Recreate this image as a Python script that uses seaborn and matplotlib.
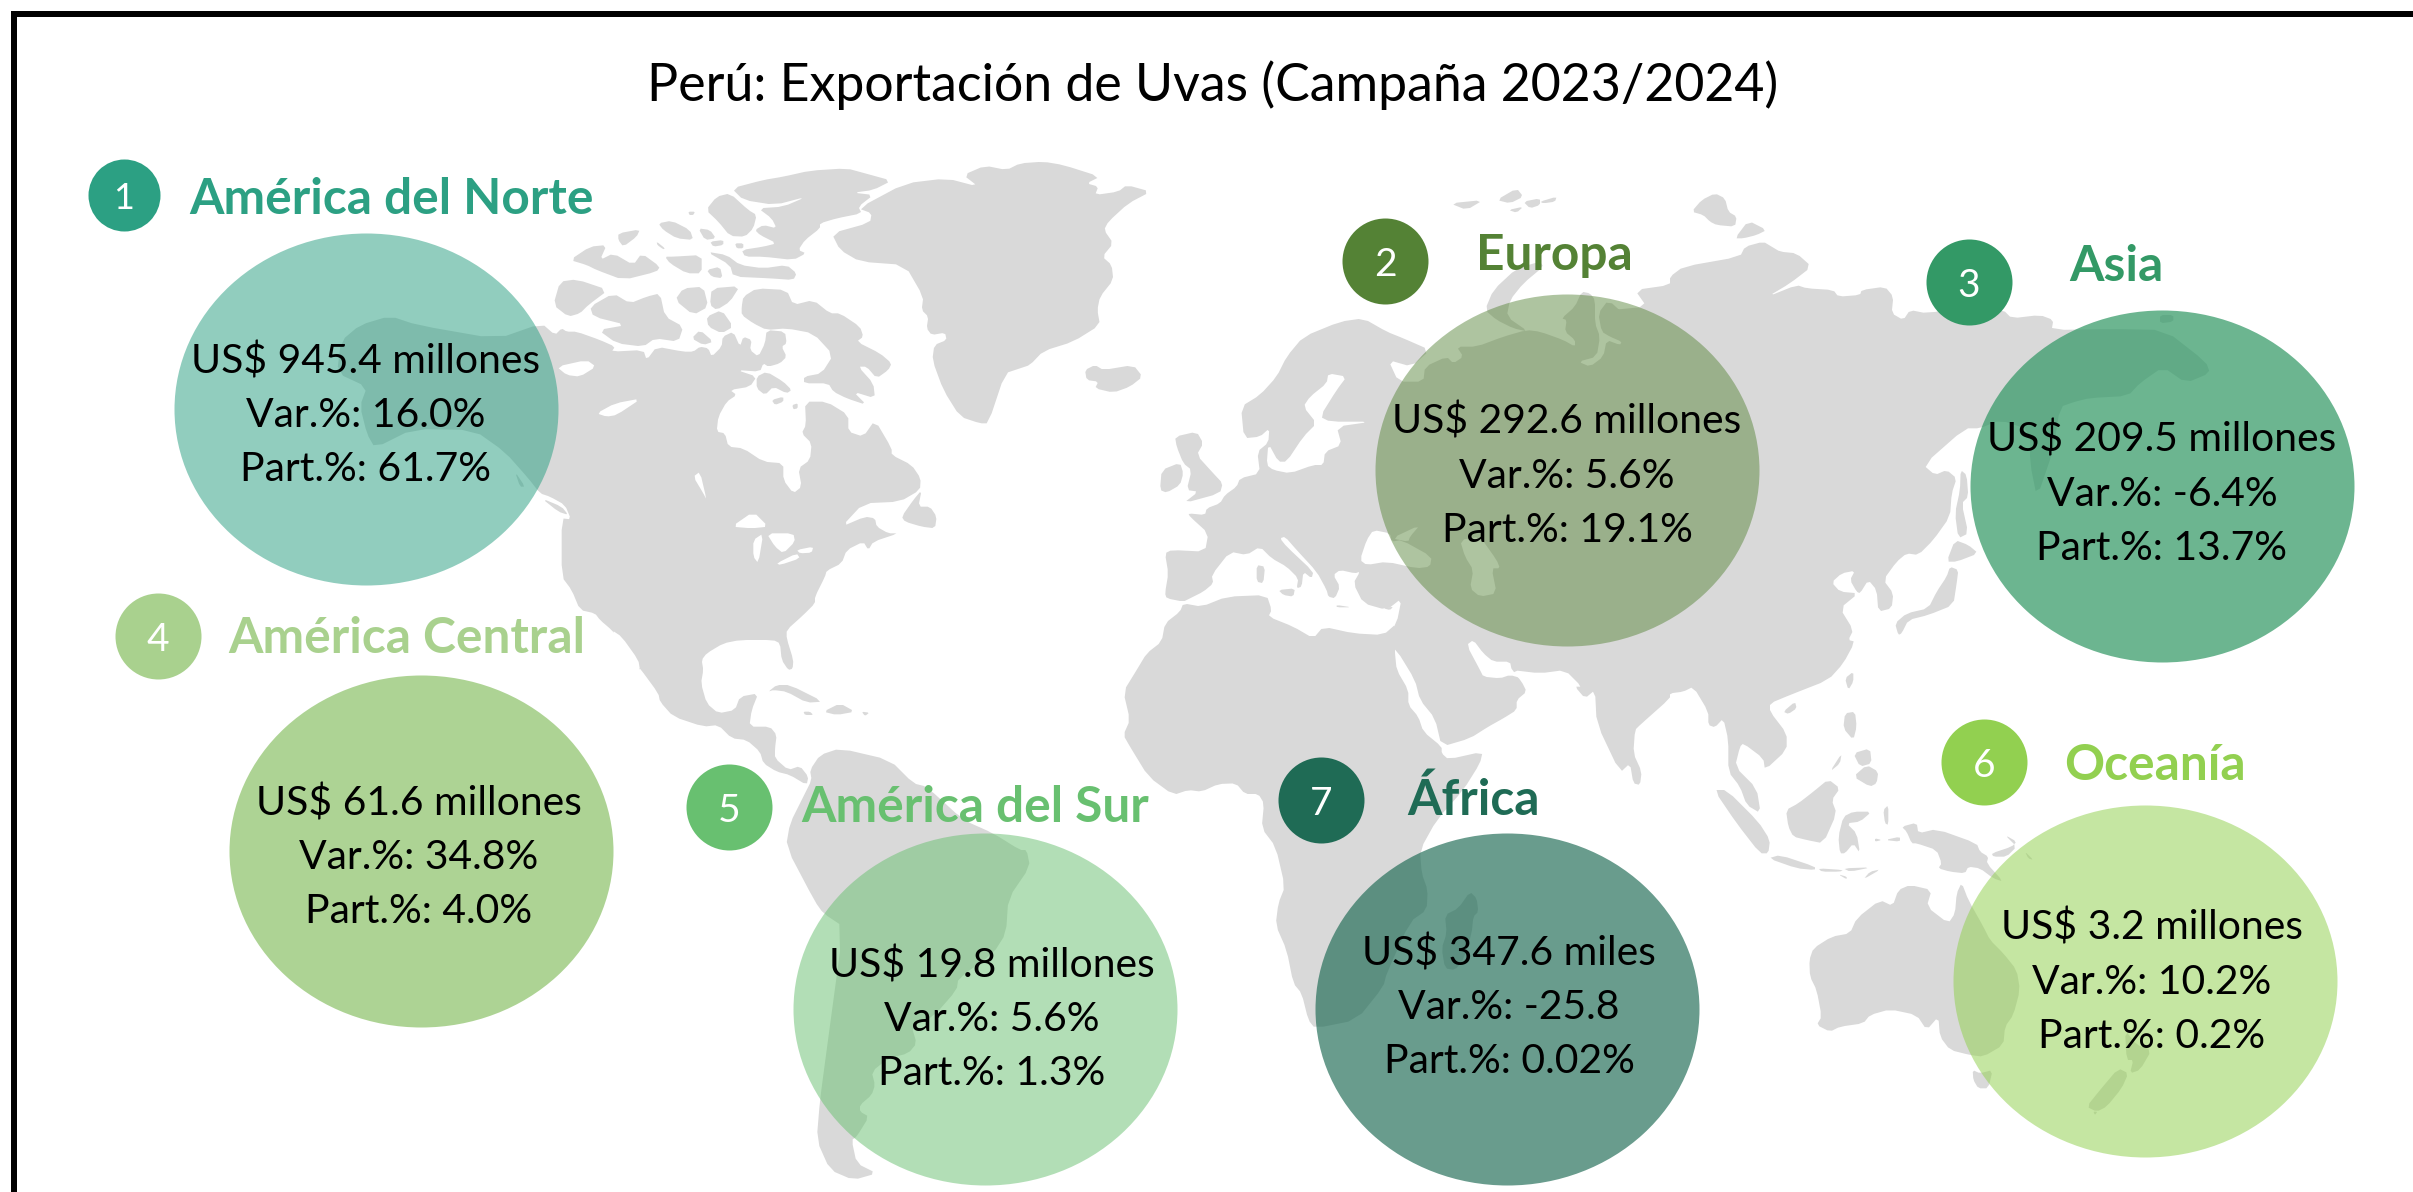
"""Peru grape exports by region, drawn over a traced grey world map."""
import matplotlib
matplotlib.use("Agg")
import matplotlib.pyplot as plt
import pandas as pd
import seaborn as sns
from matplotlib.path import Path
from matplotlib.patches import Polygon

# chart data
regions = ["América del Norte", "Europa", "Asia", "América Central",
           "América del Sur", "Oceanía", "África"]
ranks = [1, 2, 3, 4, 5, 6, 7]
values = ["945.4", "292.6", "209.5", "61.6", "19.8", "3.2", "347.6"]
units = ["millones", "millones", "millones", "millones", "millones", "millones", "miles"]
var_pct = ["16.0%", "5.6%", "-6.4%", "34.8%", "5.6%", "10.2%", "-25.8"]
part_pct = ["61.7%", "19.1%", "13.7%", "4.0%", "1.3%", "0.2%", "0.02%"]

# styling and layout, in reference pixels
colors = ["#2CA083", "#548235", "#339966", "#A9D18E", "#68C070", "#92D050", "#1F6B55"]
bubble_alpha = [0.52, 0.47, 0.72, 0.95, 0.51, 0.53, 0.67]
bubble_x = [366, 1567, 2162, 421, 985, 2145, 1507]
bubble_y = [409, 470, 486, 851, 1009, 981, 1009]
text_x = [366, 1567, 2162, 419, 992, 2152, 1509]
text_y = [373, 434, 452, 815, 977, 940, 965]
dot_x = [124, 1385, 1969, 158, 729, 1984, 1321]
dot_y = [195, 261, 282, 636, 807, 762, 800]
dot_r = [36, 43, 43, 43, 43, 43, 43]
label_x = [189, 1476, 2069, 228, 801, 2064, 1407]
label_y = [214, 270, 281, 653, 822, 780, 815]
LAND = "#D9D9D9"
DPI = 100


def crop(ox, oy, pts):
    return [(ox + x / 3, oy + y / 3) for x, y in pts]


def c5(pts):
    return crop(500, 150, pts)


def c6(pts):
    return crop(1020, 150, pts)


def c7(pts):
    return crop(1540, 150, pts)


def c8(pts):
    return crop(640, 660, pts)


def c9(pts):
    return crop(1130, 640, pts)


def c10(pts):
    return crop(1640, 640, pts)


def soften(pts):
    # one pass of corner cutting so the traced coasts look less angular
    out = []
    for i, (x0, y0) in enumerate(pts):
        x1, y1 = pts[(i + 1) % len(pts)]
        out.append((0.8 * x0 + 0.2 * x1, 0.8 * y0 + 0.2 * y1))
        out.append((0.2 * x0 + 0.8 * x1, 0.2 * y0 + 0.8 * y1))
    return out


north_america = (
    c5([(125, 520), (165, 555), (185, 535), (200, 545), (230, 545), (300, 570), (345, 590), (335, 605),
        (430, 600), (440, 630), (470, 590), (550, 605), (580, 605), (600, 590), (625, 595), (635, 620),
        (665, 590), (668, 560), (700, 545), (720, 590), (730, 560), (755, 570), (750, 600), (775, 620),
        (795, 580), (800, 540), (855, 545), (860, 580), (845, 590), (860, 620), (840, 640), (805, 650),
        (790, 640), (780, 665), (710, 660), (770, 680), (750, 710), (690, 720), (710, 735), (680, 755),
        (655, 800), (650, 845), (675, 850), (685, 890), (730, 895), (790, 935), (850, 940), (850, 990),
        (880, 1030), (905, 1010), (895, 955), (930, 930), (935, 880), (905, 850), (918, 825), (915, 755),
        (980, 755), (1045, 795), (1045, 845), (1090, 860), (1125, 810), (1175, 895), (1175, 915),
        (1235, 945), (1262, 985), (1260, 1020), (1200, 1055), (1090, 1060), (1025, 1130), (1095, 1100),
        (1125, 1105), (1130, 1130), (1165, 1150), (1195, 1150), (1120, 1175), (1105, 1200), (1090, 1175),
        (1040, 1200), (1025, 1240), (980, 1262), (975, 1280), (945, 1340), (945, 1360), (910, 1395),
        (860, 1440), (860, 1465), (880, 1530), (878, 1556)])
    + c8([(445, 30), (425, 0)])
    + c5([(840, 1480), (820, 1470), (720, 1470), (670, 1480), (620, 1510), (605, 1530), (610, 1560)])
    + c8([(183, 70), (200, 130), (235, 160), (285, 150), (300, 110), (355, 100), (335, 150), (328, 200),
          (390, 200), (410, 225), (405, 265), (405, 295), (445, 330), (480, 318), (505, 350), (500, 375),
          (450, 345), (410, 335), (370, 310), (360, 275), (320, 240), (275, 235), (235, 195), (190, 200),
          (100, 170), (60, 125), (55, 100), (0, 25)])
    + c5([(420, 1560), (380, 1490), (335, 1440), (300, 1410), (285, 1390), (240, 1380), (215, 1320),
          (185, 1280), (185, 1105), (213, 1108), (195, 1065), (150, 1040), (120, 1030), (85, 985), (15, 906),
          (-78, 840), (-261, 837), (-375, 894), (-399, 852), (-420, 768), (-399, 711), (-489, 669),
          (-477, 573), (-420, 525), (-330, 498), (-249, 525), (-9, 567)])
)

greenland = (
    c5([(995, 250), (1110, 218), (1115, 190), (1075, 175), (1215, 100), (1340, 85), (1435, 110), (1390, 75),
        (1455, 47), (1520, 60)])
    + c6([(0, 40), (70, 35), (130, 45), (240, 80), (200, 100), (235, 110), (225, 135), (295, 125), (320, 105),
          (392, 125), (325, 160), (265, 215), (252, 240), (280, 280), (247, 320), (275, 345), (280, 390),
          (240, 440), (232, 480), (240, 525), (160, 575), (70, 603), (30, 645), (0, 655)])
    + c5([(1515, 670), (1465, 820), (1440, 820), (1380, 800), (1330, 720), (1297, 630), (1303, 585), (1340, 570),
          (1335, 548), (1295, 555), (1280, 535), (1285, 500), (1265, 480), (1270, 440), (1215, 345), (1080, 335),
          (1020, 300)])
)

south_america = c8([(510, 330), (540, 285), (600, 265), (750, 300), (820, 370), (860, 380), (970, 480), (1060, 520),
                    (1140, 570), (1160, 570), (1170, 620), (1105, 715), (1098, 820), (1060, 880), (955, 955),
                    (950, 990), (880, 1070), (815, 1100), (830, 1150), (805, 1180), (745, 1195), (695, 1235),
                    (705, 1275), (695, 1305), (660, 1335), (660, 1355), (687, 1370), (650, 1430), (635, 1440),
                    (650, 1510), (710, 1540), (640, 1560), (570, 1530), (530, 1440), (540, 1320), (560, 1170),
                    (610, 800), (550, 760), (525, 725), (438, 560), (450, 490), (490, 410), (515, 360)])

africa = (
    c6([(350, 1560), (380, 1510), (425, 1475), (435, 1420), (480, 1385), (490, 1360), (545, 1370), (620, 1340),
        (740, 1335), (755, 1380), (745, 1400), (820, 1430), (880, 1465), (910, 1430), (1000, 1450), (1090, 1455),
        (1130, 1420), (1125, 1500)])
    + c9([(795, 40), (800, 90), (835, 150), (835, 195), (865, 230), (880, 275), (935, 320), (935, 340), (955, 358),
          (1058, 335), (1050, 370), (1000, 450), (920, 540), (870, 630), (875, 700), (893, 750), (890, 810),
          (840, 845), (770, 1000), (760, 1040), (680, 1140), (555, 1165), (535, 1140), (515, 1060), (490, 1030),
          (470, 930), (437, 855), (445, 790), (465, 740), (437, 620), (395, 565), (402, 490), (385, 462), (345, 462),
          (318, 430), (265, 432), (215, 455), (175, 450), (130, 465), (55, 410), (0, 320)])
    + c8([(1450, 225), (1470, 180), (1450, 95)])
)

eurasia = (
    c6([(435, 1210), (455, 1200), (555, 1205), (565, 1150), (510, 1100), (505, 1090), (555, 1095), (560, 1075),
        (600, 1060), (615, 1035), (650, 1010), (660, 985), (720, 970), (712, 905), (745, 878), (748, 835), (720, 860),
        (672, 865), (663, 770), (720, 735), (770, 680), (800, 620), (850, 560), (960, 515), (1030, 505), (1100, 545),
        (1150, 565), (1230, 600), (1175, 650), (1105, 630), (1135, 695), (1210, 695), (1215, 650), (1280, 620),
        (1300, 640), (1330, 620), (1310, 590), (1370, 590), (1450, 560), (1520, 540)])
    + c7([(0, 545), (70, 570), (105, 590), (105, 570), (75, 545), (80, 510), (65, 505), (105, 470), (125, 425),
          (150, 430), (165, 450), (165, 520), (180, 560), (170, 620), (115, 635), (150, 650), (190, 620), (200, 570),
          (240, 585), (245, 575), (210, 560), (185, 545), (175, 490), (205, 450), (260, 500), (215, 480), (320, 470),
          (285, 420), (390, 405), (390, 380), (430, 350), (600, 320), (615, 290), (670, 275), (695, 290), (720, 305),
          (770, 310), (815, 350), (750, 400), (683, 440), (770, 405), (800, 415), (880, 420), (895, 440), (960, 435),
          (965, 420), (1035, 410), (1060, 440), (1055, 490), (1090, 510), (1110, 480), (1160, 490), (1280, 470),
          (1390, 480), (1415, 505), (1500, 495), (1540, 510), (1535, 540), (1719, 537), (1875, 540), (1998, 636),
          (2010, 669), (1938, 699), (1869, 651), (1800, 699), (1764, 738), (1650, 744), (1602, 756), (1560, 771),
          (1540, 900), (1491, 1044), (1470, 939), (1470, 840), (1380, 810), (1320, 835), (1275, 835), (1150, 945),
          (1185, 975), (1220, 960), (1250, 985), (1235, 1030), (1230, 1100), (1180, 1170), (1135, 1215), (1100, 1210),
          (1070, 1235), (1030, 1290), (1060, 1330), (1055, 1375), (1015, 1385), (1010, 1320), (985, 1290), (960, 1330),
          (950, 1325), (930, 1290), (945, 1262), (905, 1270), (875, 1297), (900, 1325), (955, 1330), (900, 1375),
          (940, 1440), (925, 1470), (945, 1475), (900, 1560)])
    + c10([(645, 5), (610, 70), (565, 120), (450, 165), (390, 190), (390, 215), (440, 280), (440, 330), (375, 390),
           (370, 355), (310, 310), (300, 320), (285, 380), (350, 445), (362, 520), (320, 495), (300, 440), (265, 395),
           (265, 300), (250, 235), (225, 262), (205, 255), (205, 215), (160, 140), (130, 155), (90, 160), (90, 175),
           (0, 255)])
    + c9([(1515, 270), (1510, 340), (1535, 395), (1530, 435), (1510, 430), (1500, 370), (1470, 398), (1400, 250),
          (1395, 150), (1365, 175), (1335, 140), (1355, 140), (1305, 90), (1230, 100), (1145, 90), (1175, 125),
          (1190, 155), (1160, 180), (1160, 210), (1120, 235), (1075, 260), (1020, 295), (935, 320), (915, 235),
          (870, 180), (855, 120), (800, 30), (760, 5)])
    + c6([(1130, 1420), (1145, 1345), (1100, 1380), (1030, 1360), (1000, 1300), (1020, 1265), (1005, 1270), (960, 1260),
          (940, 1275), (960, 1310), (945, 1345), (925, 1340), (920, 1320), (890, 1265), (830, 1200), (795, 1160),
          (780, 1165), (800, 1190), (880, 1265), (875, 1285), (850, 1265), (845, 1310), (830, 1315), (835, 1285),
          (800, 1250), (755, 1225), (720, 1190), (680, 1215), (630, 1205), (575, 1275), (580, 1300), (550, 1325),
          (510, 1345), (490, 1355), (440, 1345), (435, 1330), (445, 1270)])
)

australia = c10([(508, 960), (520, 925), (575, 890), (630, 880), (650, 835), (720, 780), (758, 798), (775, 750), (810, 735),
                 (875, 750), (860, 800), (925, 850), (945, 820), (950, 760), (965, 728), (985, 780), (1030, 860),
                 (1050, 900), (1090, 940), (1130, 990), (1140, 1050), (1120, 1125), (1095, 1160), (1090, 1215),
                 (1030, 1250), (990, 1245), (930, 1230), (900, 1190), (895, 1130), (860, 1170), (830, 1125), (750, 1108),
                 (690, 1125), (670, 1150), (600, 1160), (570, 1175), (530, 1155), (545, 1130), (530, 1050), (510, 1010)])

islands = [
    # arctic canada
    c5([(725, 470), (730, 440), (770, 415), (860, 420), (880, 465), (940, 450), (990, 490), (1020, 490), (1080, 530),
        (1090, 560), (1070, 575), (1140, 610), (1175, 640), (1165, 660), (1130, 685), (1100, 650), (1075, 650),
        (1120, 700), (1125, 745), (1060, 725), (1100, 765), (1040, 745), (1000, 725), (985, 700), (912, 700), (912, 680),
        (965, 670), (1000, 615), (940, 550), (860, 535), (800, 540), (760, 520), (725, 495)]),
    c5([(270, 470), (340, 430), (390, 460), (440, 440), (480, 430), (495, 500), (550, 530), (535, 575), (465, 565),
        (430, 590), (350, 580), (295, 540), (380, 525), (280, 500)]),
    c5([(160, 465), (180, 395), (230, 388), (325, 420), (265, 465), (240, 490), (205, 500)]),
    c5([(525, 450), (550, 415), (610, 410), (625, 470), (580, 495)]),
    c5([(575, 565), (600, 540), (640, 575), (610, 585)]),
    c5([(635, 415), (720, 408), (690, 455), (650, 480), (630, 465)]),
    c5([(620, 500), (665, 480), (700, 530), (665, 550), (625, 530)]),
    c5([(210, 330), (270, 290), (320, 285), (300, 330), (340, 310), (400, 345), (425, 310), (480, 350), (470, 365),
        (370, 390), (290, 360), (260, 345)]),
    c5([(495, 320), (520, 320), (605, 315), (605, 370), (560, 370), (510, 340)]),
    c5([(620, 305), (680, 315), (720, 345), (790, 355), (860, 345), (890, 370), (880, 390), (810, 385), (700, 380),
        (690, 345)]),
    c5([(620, 360), (660, 350), (668, 385), (635, 380)]),
    c5([(695, 115), (790, 90), (850, 80), (930, 62), (1040, 55), (1095, 70), (1175, 92), (1120, 120), (1060, 128),
        (1120, 135), (1075, 170), (1085, 190), (1010, 205), (960, 220), (960, 235), (915, 270), (895, 300), (918, 310),
        (880, 330), (790, 320), (735, 320), (725, 300), (790, 290), (830, 280), (780, 255), (765, 240), (790, 225),
        (830, 235), (815, 205), (775, 175), (850, 170), (920, 140), (825, 165), (730, 150)]),
    c5([(618, 180), (650, 140), (690, 130), (745, 180), (770, 195), (760, 235), (735, 260), (690, 258), (655, 215)]),
    c5([(475, 220), (515, 212), (570, 240), (580, 270), (530, 265), (490, 240)]),
    c5([(595, 235), (630, 240), (648, 265), (615, 270)]),
    c5([(630, 275), (670, 270), (670, 285), (640, 290)]),
    c5([(705, 280), (730, 280), (730, 295), (710, 295)]),
    c5([(355, 250), (420, 238), (410, 260), (370, 290), (355, 270)]),
    c5([(470, 275), (495, 295), (490, 298), (472, 285)]),
    c5([(565, 185), (585, 185), (580, 195), (568, 195)]),
    c5([(770, 680), (800, 665), (850, 695), (875, 720), (860, 730), (820, 710), (795, 735), (770, 715)]),
    c5([(815, 750), (850, 740), (850, 755), (825, 765)]),
    c5([(877, 765), (893, 760), (893, 775), (880, 778)]),
    c5([(1205, 1100), (1240, 1050), (1265, 1020), (1255, 1070), (1290, 1070), (1310, 1100), (1305, 1135), (1265, 1130),
        (1215, 1115)]),
    c5([(125, 1045), (185, 1070), (205, 1095), (175, 1085)]),
    c5([(45, 965), (75, 1010), (60, 1010)]),
    # caribbean
    c8([(385, 95), (410, 75), (450, 75), (550, 125), (500, 128), (440, 95), (400, 90)]),
    c8([(550, 155), (600, 130), (645, 155), (590, 165)]),
    c8([(490, 155), (510, 155), (520, 165), (495, 165)]),
    c8([(665, 155), (688, 158), (675, 168)]),
    # europe and the north
    c6([(195, 660), (225, 645), (250, 660), (340, 645), (368, 680), (330, 710), (280, 728), (225, 715), (235, 695),
        (200, 690)]),
    c6([(420, 1020), (425, 960), (480, 938), (490, 970), (480, 1005), (440, 1028)]),
    c6([(465, 860), (530, 845), (550, 880), (530, 915), (580, 970), (608, 1000), (600, 1030), (490, 1060), (535, 1025),
        (500, 1020), (515, 960), (490, 940), (470, 890)]),
    c6([(775, 1320), (825, 1315), (820, 1340), (790, 1335)]),
    c6([(710, 1245), (735, 1250), (730, 1300), (710, 1295)]),
    c6([(950, 1365), (995, 1372), (950, 1372)]),
    c6([(1090, 1375), (1120, 1370), (1110, 1380)]),
    c6([(1290, 160), (1390, 150), (1340, 180)]),
    c6([(1430, 150), (1490, 115), (1510, 140), (1470, 160)]),
    c6([(1510, 155), (1560, 145), (1560, 165), (1530, 175)]),
    c6([(1465, 180), (1510, 170), (1490, 188)]),
    c7([(0, 155), (50, 140), (45, 155), (10, 160)]),
    c6([(1395, 480), (1420, 420), (1490, 355), (1560, 335), (1570, 350), (1510, 400), (1470, 450), (1460, 500),
        (1525, 545), (1480, 535), (1430, 510)]),
    c7([(455, 185), (485, 150), (525, 130), (555, 145), (565, 185), (590, 200), (585, 230), (530, 225), (510, 215),
        (490, 195)]),
    c7([(585, 265), (625, 212), (680, 240), (650, 255), (610, 265)]),
    c7([(1860, 495), (1900, 495), (1900, 515), (1860, 520)]),
    # japan and sakhalin
    c7([(1065, 1420), (1100, 1390), (1165, 1375), (1190, 1325), (1220, 1280), (1230, 1250), (1255, 1260), (1250, 1300),
        (1240, 1365), (1165, 1395), (1105, 1410), (1085, 1450), (1075, 1455)]),
    c7([(1220, 1235), (1245, 1170), (1285, 1185), (1315, 1210), (1250, 1235)]),
    c7([(1262, 960), (1280, 975), (1285, 1040), (1265, 1060), (1285, 1150), (1255, 1165), (1245, 1090), (1260, 1020)]),
    # south east asia and oceania
    c10([(430, 215), (465, 185), (470, 205), (445, 222)]),
    c10([(615, 115), (640, 95), (640, 125), (625, 150)]),
    c10([(615, 220), (645, 215), (650, 260), (640, 300), (610, 265)]),
    c10([(640, 410), (680, 375), (715, 395), (710, 430), (690, 440)]),
    c10([(640, 340), (690, 325), (695, 370), (660, 380)]),
    c10([(570, 395), (605, 340), (600, 370)]),
    c10([(222, 450), (260, 450), (355, 545), (390, 600), (385, 640), (360, 640), (290, 550)]),
    c10([(438, 510), (475, 490), (520, 455), (565, 418), (600, 445), (575, 480), (590, 520), (550, 610), (500, 600),
         (460, 590), (445, 560)]),
    c10([(595, 590), (610, 530), (640, 515), (695, 515), (660, 545), (620, 550), (650, 580), (660, 640), (640, 610),
         (615, 640), (600, 640)]),
    c10([(385, 655), (420, 645), (525, 680), (525, 690), (470, 685)]),
    c10([(535, 685), (610, 690), (600, 695), (545, 695)]),
    c10([(610, 685), (695, 682), (630, 695)]),
    c10([(595, 703), (620, 710), (620, 718)]),
    c10([(670, 718), (690, 695), (722, 688)]),
    c10([(730, 510), (745, 495), (745, 555), (735, 550)]),
    c10([(705, 595), (725, 600), (705, 605)]),
    c10([(735, 600), (780, 590), (780, 605)]),
    c10([(785, 560), (830, 548), (835, 580), (890, 567), (1010, 610), (1020, 635), (1045, 650), (1040, 670), (1090, 725),
         (1060, 715), (1020, 685), (985, 680), (975, 700), (930, 695), (895, 685), (905, 670), (890, 630), (830, 610),
         (815, 610), (800, 575)]),
    c10([(1055, 640), (1115, 620), (1130, 605), (1095, 585), (1130, 620), (1100, 650), (1060, 650)]),
    c10([(1155, 635), (1180, 660), (1165, 655)]),
    c10([(998, 1290), (1020, 1300), (1058, 1290), (1045, 1345), (1015, 1345), (1000, 1320)]),
    c10([(1340, 1400), (1380, 1350), (1435, 1285), (1465, 1300), (1445, 1345), (1400, 1400), (1370, 1415)]),
    c10([(1455, 1170), (1490, 1215), (1535, 1230), (1500, 1290), (1470, 1300), (1480, 1260), (1460, 1260)]),
    c10([(1360, 1415), (1372, 1415), (1365, 1425)]),
    c9([(1020, 755), (1040, 775), (1045, 815), (1030, 830), (1025, 880), (1000, 960), (975, 990), (945, 985), (935, 925),
        (950, 880), (945, 825), (985, 805)]),
    australia,
]

# lakes and inner seas, painted white over the land
waters = [
    c5([(170, 650), (260, 630), (288, 650), (240, 680), (200, 675)]),
    c5([(290, 790), (345, 760), (425, 745), (350, 795), (320, 800)]),
    c5([(580, 980), (600, 965), (620, 1050), (610, 1030)]),
    c5([(695, 1130), (760, 1085), (805, 1130), (755, 1135)]),
    c5([(760, 1170), (790, 1150), (775, 1240), (760, 1220)]),
    c5([(800, 1150), (880, 1150), (885, 1175), (850, 1210), (825, 1190)]),
    c5([(830, 1240), (890, 1210), (900, 1225), (840, 1245)]),
    c5([(890, 1200), (940, 1190), (935, 1208), (900, 1210)]),
    c5([(335, 1440), (365, 1460), (415, 1530), (420, 1560), (395, 1560), (370, 1530)]),
    c6([(745, 880), (775, 935), (800, 935), (850, 860), (890, 820), (850, 770), (870, 740), (920, 700), (925, 670),
        (980, 680), (950, 720), (900, 800), (930, 815), (1055, 815), (950, 830), (965, 885), (915, 905), (910, 945),
        (880, 945), (810, 970), (760, 960), (740, 945)]),
    c6([(1020, 1230), (1040, 1170), (1060, 1140), (1110, 1150), (1115, 1175), (1145, 1170), (1235, 1220), (1230, 1250),
        (1190, 1255), (1100, 1235), (1040, 1245)]),
    c6([(1115, 1165), (1200, 1125), (1170, 1160), (1165, 1175)]),
    c6([(1320, 1170), (1380, 1160), (1430, 1230), (1440, 1255), (1415, 1255), (1430, 1330), (1380, 1340), (1350, 1315),
        (1360, 1260), (1335, 1220)]),
    c9([(1010, 15), (1030, 0), (1060, 40), (1090, 65), (1140, 65), (1145, 90), (1175, 115), (1140, 105), (1110, 115),
        (1060, 110), (1050, 90)]),
]

# flat ellipse used as the marker of the big bubbles
BUBBLE_RX, BUBBLE_RY = 192, 176
ellipse = Path.unit_circle().transformed(
    matplotlib.transforms.Affine2D().scale(1, BUBBLE_RY / BUBBLE_RX))

df = pd.DataFrame({
    "region": regions, "rank": ranks, "color": colors, "alpha": bubble_alpha,
    "bx": bubble_x, "by": bubble_y, "tx": text_x, "ty": text_y,
    "dx": dot_x, "dy": dot_y, "dr": dot_r, "lx": label_x, "ly": label_y,
    "value": values, "unit": units, "var": var_pct, "part": part_pct,
})

sns.set_theme(style="white")
plt.rcParams["font.family"] = ["Lato", "DejaVu Sans"]

fig = plt.figure(figsize=(24.13, 11.92), dpi=DPI)
ax = fig.add_axes([0, 0, 1, 1])

for land in [north_america, greenland, south_america, africa, eurasia] + islands:
    ax.add_patch(Polygon(soften(land), closed=True, facecolor=LAND, edgecolor="none", zorder=1))
for water in waters:
    ax.add_patch(Polygon(soften(water), closed=True, facecolor="white", edgecolor="none", zorder=2))

px_to_pt = 72 / DPI
for _, row in df.iterrows():
    sns.scatterplot(x=[row["bx"]], y=[row["by"]], color=row["color"], alpha=row["alpha"],
                    s=(2 * BUBBLE_RX * px_to_pt) ** 2, marker=ellipse, linewidth=0, zorder=3, ax=ax)
    sns.scatterplot(x=[row["dx"]], y=[row["dy"]], color=row["color"],
                    s=(2 * row["dr"] * px_to_pt) ** 2, linewidth=0, zorder=4, ax=ax)
    ax.text(row["dx"], row["dy"] + (14 if row["dr"] < 40 else 15), str(row["rank"]), color="white",
            fontsize=26 if row["dr"] < 40 else 28, ha="center", va="baseline", zorder=5)
    ax.text(row["lx"], row["ly"], row["region"], color=row["color"], fontsize=35.7, fontweight="bold",
            ha="left", va="baseline", zorder=5)
    lines = [f"US$ {row['value']} {row['unit']}", f"Var.%: {row['var']}", f"Part.%: {row['part']}"]
    for i, line in enumerate(lines):
        ax.text(row["tx"], row["ty"] + 54 * i, line, color="black", fontsize=29.4,
                ha="center", va="baseline", zorder=5)

ax.text(1213, 101, "Perú: Exportación de Uvas (Campaña 2023/2024)", color="black", fontsize=37.4,
        ha="center", va="baseline", zorder=5)

# frame: only the top and left edges are on the canvas
ax.plot([13.5, 13.5], [1192, 13.5], color="black", lw=6 * px_to_pt, solid_capstyle="butt", zorder=6)
ax.plot([11, 2413], [13.5, 13.5], color="black", lw=6 * px_to_pt, solid_capstyle="butt", zorder=6)

ax.set_xlim(0, 2413)
ax.set_ylim(1192, 0)
ax.set_xlabel("")
ax.set_ylabel("")
ax.axis("off")

fig.savefig("out.png", dpi=DPI)
